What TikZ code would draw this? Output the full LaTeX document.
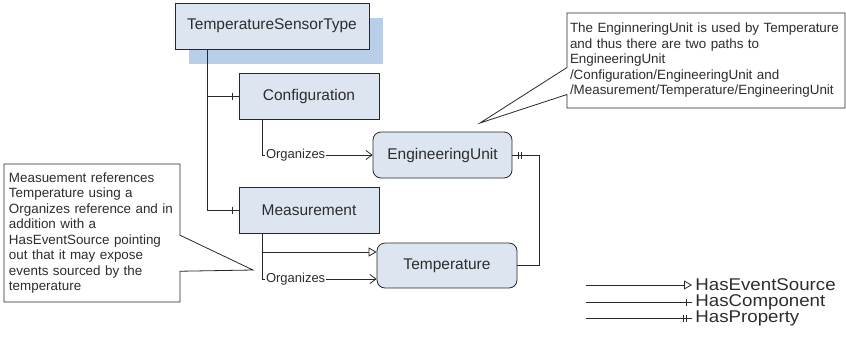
\documentclass[tikz,border=0pt]{standalone}
\usepackage{fontspec}
\setmainfont{Liberation Sans}
\usetikzlibrary{arrows.meta,shapes.callouts,shadows,decorations.markings}

\definecolor{boxfill}{RGB}{221,229,240}
\definecolor{shadowblue}{RGB}{185,207,232}
\definecolor{linegray}{RGB}{40,40,40}
\definecolor{textgray}{RGB}{45,45,45}

\begin{document}
\begin{tikzpicture}[
    x=1pt, y=-1pt,
    every node/.style={text=textgray},
    line width=0.8pt,
    obj/.style={
        draw=linegray, fill=boxfill,
        minimum width=140pt, minimum height=46pt,
        font=\fontsize{15.5}{18}\selectfont
    },
    var/.style={obj, rounded corners=8pt},
    lbl/.style={font=\fontsize{13}{15}\selectfont, fill=white,
        inner sep=1pt, anchor=west},
    note/.style={
        rectangle callout, draw=linegray, fill=white,
        align=left, font=\fontsize{13.4}{15.5}\selectfont
    },
    legtxt/.style={font=\fontsize{17}{19}\selectfont\addfontfeature{FakeStretch=1.1},
        anchor=west, inner xsep=3pt, inner ysep=0pt},
    organizes/.style={draw=linegray, -{Straight Barb[length=6pt,width=9pt]}},
    hasevent/.style={draw=linegray,
        -{Triangle[open,fill=white,length=8pt,width=9pt]}},
    hascomp/.style={draw=linegray,
        decoration={markings,
            mark=at position -6pt with {\draw[-] (0,-3.5) -- (0,3.5);}},
        postaction={decorate}},
    hasprop/.style={draw=linegray,
        decoration={markings,
            mark=at position -6pt with {\draw[-] (0,-3.5) -- (0,3.5);},
            mark=at position -9pt with {\draw[-] (0,-3.5) -- (0,3.5);}},
        postaction={decorate}}
]
\useasboundingbox (0,0) rectangle (846,349);

% ----------------------------------------------------------
% Objekttyp mit Komponenten
% ----------------------------------------------------------
\node[obj, minimum width=194pt,
      drop shadow={shadow xshift=14pt, shadow yshift=-15pt,
                   fill=shadowblue, opacity=1}]
    (tst) at (272, 26) {TemperatureSensorType};

\node[obj] (config) at (309, 96) {Configuration};
\node[obj] (meas)   at (309, 210) {Measurement};

% Variablen (abgerundet)
\node[var, minimum width=139pt] (engunit) at (442.5, 155) {EngineeringUnit};
\node[var, minimum height=45pt] (temp)    at (447, 265.5) {Temperature};

% ----------------------------------------------------------
% Referenzen
% ----------------------------------------------------------
\draw[hascomp] ([xshift=33pt]tst.south west) |- (config.west);
\draw[hascomp] ([xshift=33pt]tst.south west) |- (meas.west);

\draw[organizes] ([xshift=24pt]config.south west) |-
    node[lbl, pos=.5, xshift=2pt] {Organizes} (engunit.west);

\draw[hasevent] ([xshift=24pt]meas.south west) |- ([yshift=13.5pt]temp.west);
\draw[organizes] ([xshift=24pt]meas.south west) |-
    node[lbl, pos=.5, xshift=2pt] {Organizes} ([yshift=-13.5pt]temp.west);

\draw[hasprop] (temp.east) -- ++(22,0) |- (engunit.east);

% ----------------------------------------------------------
% Hinweise (Callouts)
% ----------------------------------------------------------
\node[note, text width=166pt, inner xsep=5pt, minimum height=138pt,
      callout absolute pointer={(253,270)}, callout pointer width=36pt]
    (notemeas) at (92, 233)
    {Measuement references\\
     Temperature using a\\
     Organizes reference and in\\
     addition with a\\
     HasEventSource pointing\\
     out that it may expose\\
     events sourced by the\\
     temperature};

\node[note, text width=272pt, inner xsep=3pt, minimum height=95pt,
      callout absolute pointer={(480,123)}, callout pointer width=27pt]
    (noteunit) at (706, 60.5)
    {The EnginneringUnit is used by Temperature\\
     and thus there are two paths to\\
     EngineeringUnit\\
     /Configuration/EngineeringUnit and\\
     /Measurement/Temperature/EngineeringUnit};

% ----------------------------------------------------------
% Legende
% ----------------------------------------------------------
\foreach \rel/\txt/\y [count=\k] in {hasevent/HasEventSource/285,
                                     hascomp/HasComponent/302,
                                     hasprop/HasProperty/318.5} {
    \node[legtxt] (leg\k) at (692, \y) {\txt};
    \coordinate (legs\k) at (586, \y);
    \draw[\rel] (legs\k) -- (leg\k.west);
}

\end{tikzpicture}
\end{document}
